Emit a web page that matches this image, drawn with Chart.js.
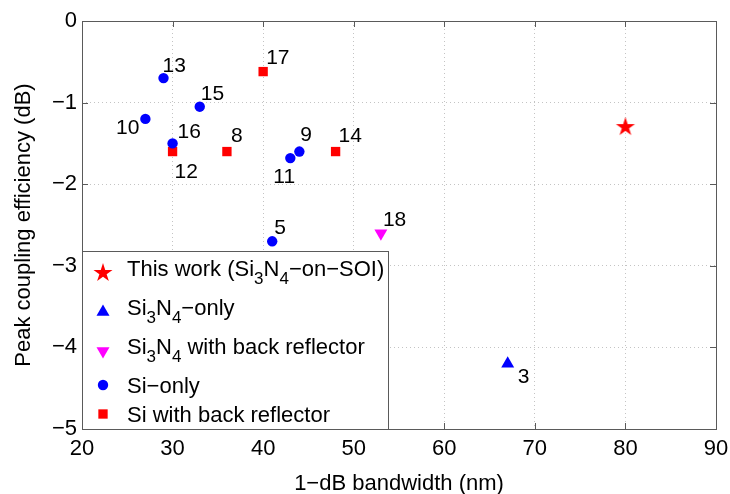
<!DOCTYPE html>
<html>
<head>
<meta charset="utf-8">
<script src="https://cdn.jsdelivr.net/npm/chart.js@4.4.0/dist/chart.umd.min.js"></script>
<style>
    html, body { margin: 0; padding: 0; background: #fff; }
</style>
</head>
<body>
<canvas id="grafica-acopladores" width="730" height="494"></canvas>
<script>
// legend names, "_" puts the next character as subscript
const seriesNames = ["This work (Si_3N_4−on−SOI)", "Si_3N_4−only", "Si_3N_4 with back reflector", "Si−only", "Si with back reflector"];

const thisWorkX = [80];
const thisWorkY = [-1.3];
const thisWorkRef = [""];

const sinOnlyX = [67];
const sinOnlyY = [-4.2];
const sinOnlyRef = ["3"];

const sinReflX = [53];
const sinReflY = [-2.6];
const sinReflRef = ["18"];

const siOnlyX = [29, 27, 33, 30, 43, 44, 41];
const siOnlyY = [-0.7, -1.2, -1.05, -1.5, -1.68, -1.6, -2.7];
const siOnlyRef = ["13", "10", "15", "16", "11", "9", "5"];

const siReflX = [40, 36, 30, 48];
const siReflY = [-0.62, -1.6, -1.6, -1.6];
const siReflRef = ["17", "8", "12", "14"];

const xTicks = [20, 30, 40, 50, 60, 70, 80, 90];
const yTicks = [0, -1, -2, -3, -4, -5];

// where each reference number sits relative to its marker: [dx, dy, align]
const refOffsets = {
    "13": [-1, -12, "left"], "17": [3, -13, "left"], "15": [1, -12, "left"],
    "10": [-6, 9, "right"], "16": [5, -11, "left"], "8": [4, -15, "left"],
    "12": [2, 21, "left"], "9": [1, -16, "left"], "11": [-17, 19, "left"],
    "14": [3, -15, "left"], "5": [2, -13, "left"], "18": [2, -13, "left"],
    "3": [10, 13, "left"]
};

const fuente = "'Liberation Sans', Arial, Helvetica, sans-serif";
const colorEje = "#5a5a5a";

const crearEstrella = (radio, color) => {
    const lienzo = document.createElement("canvas");
    lienzo.width = radio * 2 + 2;
    lienzo.height = radio * 2 + 2;
    const c = lienzo.getContext("2d");
    const cx = lienzo.width / 2;
    const cy = lienzo.height / 2;
    const interior = radio * 0.382;
    c.beginPath();
    for (let i = 0; i < 10; i++) {
        const r = i % 2 === 0 ? radio : interior;
        const ang = -Math.PI / 2 + i * Math.PI / 5;
        const px = cx + r * Math.cos(ang);
        const py = cy + r * Math.sin(ang);
        if (i === 0) c.moveTo(px, py); else c.lineTo(px, py);
    }
    c.closePath();
    c.fillStyle = color;
    c.fill();
    return lienzo;
};

const unirPuntos = (xs, ys) => xs.map((x, i) => ({ x: x, y: ys[i] }));

const estrella = crearEstrella(10, "#ff0000");

const datasets = [
    { label: seriesNames[0], data: unirPuntos(thisWorkX, thisWorkY), refs: thisWorkRef,
      pointStyle: estrella, pointRadius: 10, backgroundColor: "#ff0000" },
    { label: seriesNames[1], data: unirPuntos(sinOnlyX, sinOnlyY), refs: sinOnlyRef,
      pointStyle: "triangle", pointRadius: 7.5, backgroundColor: "#0000ff" },
    { label: seriesNames[2], data: unirPuntos(sinReflX, sinReflY), refs: sinReflRef,
      pointStyle: "triangle", pointRotation: 180, pointRadius: 7.5, backgroundColor: "#ff00ff" },
    { label: seriesNames[3], data: unirPuntos(siOnlyX, siOnlyY), refs: siOnlyRef,
      pointStyle: "circle", pointRadius: 5.2, backgroundColor: "#0000ff" },
    { label: seriesNames[4], data: unirPuntos(siReflX, siReflY), refs: siReflRef,
      pointStyle: "rect", pointRadius: 6.6, backgroundColor: "#ff0000" }
];
datasets.forEach((d) => {
    d.borderWidth = 0;
    d.pointBorderWidth = 0;
    d.pointHoverRadius = d.pointRadius;
    d.showLine = false;
});

const tickLabel = (v) => String(v).replace("-", "−");

// reference numbers next to each marker
const pluginEtiquetas = {
    id: "etiquetas",
    afterDatasetsDraw(chart) {
        const ctx = chart.ctx;
        ctx.save();
        ctx.font = "21px " + fuente;
        ctx.fillStyle = "#000";
        ctx.textBaseline = "middle";
        chart.data.datasets.forEach((ds, i) => {
            const meta = chart.getDatasetMeta(i);
            meta.data.forEach((pt, j) => {
                const ref = ds.refs[j];
                if (!ref) return;
                const off = refOffsets[ref] || [5, -12, "left"];
                ctx.textAlign = off[2];
                ctx.fillText(ref, pt.x + off[0], pt.y + off[1]);
            });
        });
        ctx.restore();
    }
};

const dibujarTexto = (ctx, texto, x, y) => {
    let pos = x;
    for (let i = 0; i < texto.length; i++) {
        if (texto[i] === "_" && i + 1 < texto.length) {
            ctx.font = "17px " + fuente;
            ctx.fillText(texto[i + 1], pos, y + 8);
            pos += ctx.measureText(texto[i + 1]).width;
            i++;
        } else {
            ctx.font = "22px " + fuente;
            ctx.fillText(texto[i], pos, y);
            pos += ctx.measureText(texto[i]).width;
        }
    }
    return pos - x;
};

// box with inward ticks on all four sides, then the legend
const pluginMarco = {
    id: "marco",
    afterDraw(chart) {
        const ctx = chart.ctx;
        const a = chart.chartArea;
        const sx = chart.scales.x;
        const sy = chart.scales.y;
        const largo = 6;
        ctx.save();
        ctx.strokeStyle = colorEje;
        ctx.lineWidth = 1;
        ctx.strokeRect(Math.round(a.left) + 0.5, Math.round(a.top) + 0.5,
            Math.round(a.right - a.left), Math.round(a.bottom - a.top));
        ctx.beginPath();
        sx.ticks.forEach((t) => {
            const px = Math.round(sx.getPixelForValue(t.value)) + 0.5;
            ctx.moveTo(px, a.bottom);
            ctx.lineTo(px, a.bottom - largo);
            ctx.moveTo(px, a.top);
            ctx.lineTo(px, a.top + largo);
        });
        sy.ticks.forEach((t) => {
            const py = Math.round(sy.getPixelForValue(t.value)) + 0.5;
            ctx.moveTo(a.left, py);
            ctx.lineTo(a.left + largo, py);
            ctx.moveTo(a.right, py);
            ctx.lineTo(a.right - largo, py);
        });
        ctx.stroke();

        // legend
        const izq = Math.round(a.left) + 0.5;
        const arriba = 251.5;
        const abajo = Math.round(a.bottom) + 0.5;
        const xMarca = 103;
        const xTexto = 127;
        ctx.textAlign = "left";
        ctx.textBaseline = "alphabetic";
        ctx.globalAlpha = 0;
        let ancho = 0;
        chart.data.datasets.forEach((ds) => {
            ancho = Math.max(ancho, dibujarTexto(ctx, ds.label, 0, -100));
        });
        ctx.globalAlpha = 1;
        const der = Math.round(xTexto + ancho + 4) + 0.5;
        ctx.fillStyle = "#fff";
        ctx.fillRect(izq, arriba, der - izq, abajo - arriba);
        ctx.strokeStyle = colorEje;
        ctx.strokeRect(izq, arriba, der - izq, abajo - arriba);

        let base = 276;
        chart.data.datasets.forEach((ds) => {
            const conSub = ds.label.indexOf("_") >= 0;
            const yMarca = conSub ? base - 3 : base - 8;
            ctx.fillStyle = ds.backgroundColor;
            Chart.helpers.drawPoint(ctx, {
                pointStyle: ds.pointStyle,
                rotation: ds.pointRotation || 0,
                radius: ds.pointRadius,
                borderWidth: 0
            }, xMarca, yMarca);
            ctx.fillStyle = "#000";
            dibujarTexto(ctx, ds.label, xTexto, base);
            base += conSub ? 39 : 29;
        });
        ctx.restore();
    }
};

const contexto = document.getElementById("grafica-acopladores").getContext("2d");
const grafico = new Chart(contexto, {
    type: "scatter",
    data: { datasets: datasets },
    options: {
        responsive: false,
        animation: false,
        layout: { padding: { left: 0, right: 14, top: 21, bottom: 0 } },
        plugins: {
            legend: { display: false },
            tooltip: { enabled: false }
        },
        scales: {
            x: {
                type: "linear",
                min: 20,
                max: 90,
                afterBuildTicks: (s) => { s.ticks = xTicks.map((v) => ({ value: v })); },
                afterFit: (s) => { s.height = 65; s.paddingLeft = 0; s.paddingRight = 0; },
                grid: { color: "#c4c4c4", lineWidth: 1, drawTicks: false },
                border: { display: false, dash: [1, 3] },
                ticks: { color: "#000", padding: 7, maxRotation: 0, autoSkip: false,
                    font: { family: fuente, size: 22 }, callback: tickLabel },
                title: { display: true, text: "1−dB bandwidth (nm)", color: "#000",
                    font: { family: fuente, size: 22 }, padding: { top: 0, bottom: -3 } }
            },
            y: {
                type: "linear",
                min: -5,
                max: 0,
                afterBuildTicks: (s) => { s.ticks = yTicks.map((v) => ({ value: v })); },
                afterFit: (s) => { s.width = 82; s.paddingTop = 0; s.paddingBottom = 0; },
                grid: { color: "#c4c4c4", lineWidth: 1, drawTicks: false },
                border: { display: false, dash: [1, 3] },
                ticks: { color: "#000", padding: 5, autoSkip: false,
                    font: { family: fuente, size: 22 }, callback: tickLabel },
                title: { display: true, text: "Peak coupling efficiency (dB)", color: "#000",
                    font: { family: fuente, size: 22 }, padding: { top: 11, bottom: 0 } }
            }
        }
    },
    plugins: [pluginEtiquetas, pluginMarco]
});
</script>
</body>
</html>
